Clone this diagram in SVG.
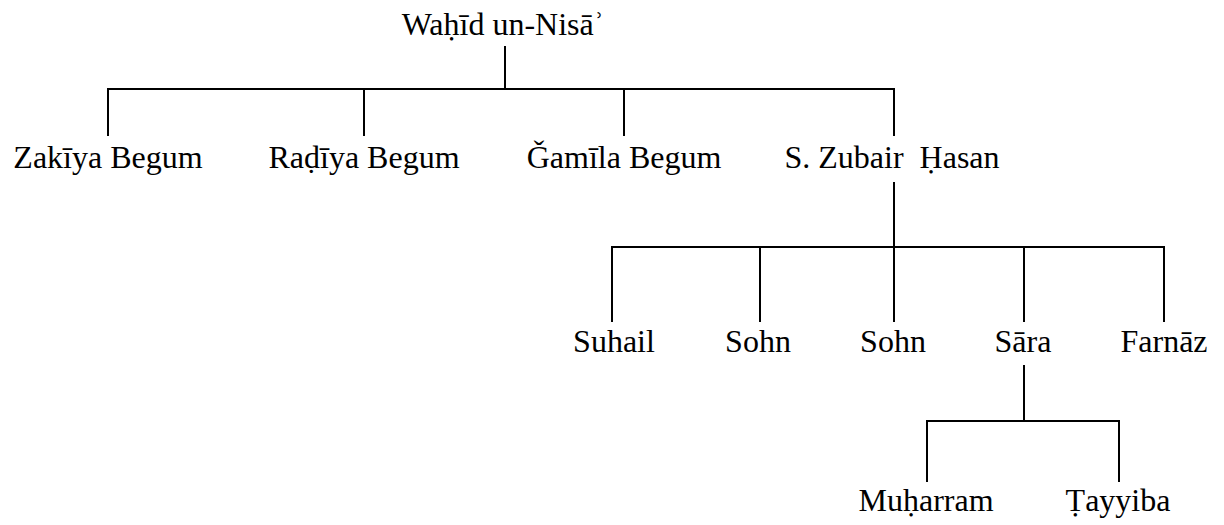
<svg xmlns="http://www.w3.org/2000/svg" width="1224" height="525" viewBox="0 0 1224 525">
<style>
text{font-family:"Liberation Serif","DejaVu Serif",serif;font-size:32px;fill:#000;text-anchor:middle;white-space:pre}
.c path{fill:none;stroke:#000;stroke-width:2}
</style>
<rect width="1224" height="525" fill="#fff"/>
<g class="c" id="connectors">
<path d="M505 46V89M108 136V89H894V136M364 89V136M624 89V136"/>
<path d="M894 182V247M612 322V247H1164V322M760 247V322M894 247V322M1024 247V322"/>
<path d="M1024 365V421M927 482V421H1119V482"/>
</g>
<g id="n-root"><text x="503" y="35">Waḥīd un-Nisāʾ</text></g>
<g id="n-zakiya"><text x="108" y="168">Zakīya Begum</text></g>
<g id="n-radiya"><text x="364" y="168">Raḍīya Begum</text></g>
<g id="n-gamila"><text x="624" y="168">Ǧamīla Begum</text></g>
<g id="n-zubair"><text x="892" y="168" xml:space="preserve">S. Zubair  Ḥasan</text></g>
<g id="n-suhail"><text x="614" y="352">Suhail</text></g>
<g id="n-sohn1"><text x="758" y="352">Sohn</text></g>
<g id="n-sohn2"><text x="893" y="352">Sohn</text></g>
<g id="n-sara"><text x="1023" y="352">Sāra</text></g>
<g id="n-farnaz"><text x="1164" y="352">Farnāz</text></g>
<g id="n-muharram"><text x="926" y="511">Muḥarram</text></g>
<g id="n-tayyiba"><text x="1118" y="511">Ṭayyiba</text></g>
</svg>
